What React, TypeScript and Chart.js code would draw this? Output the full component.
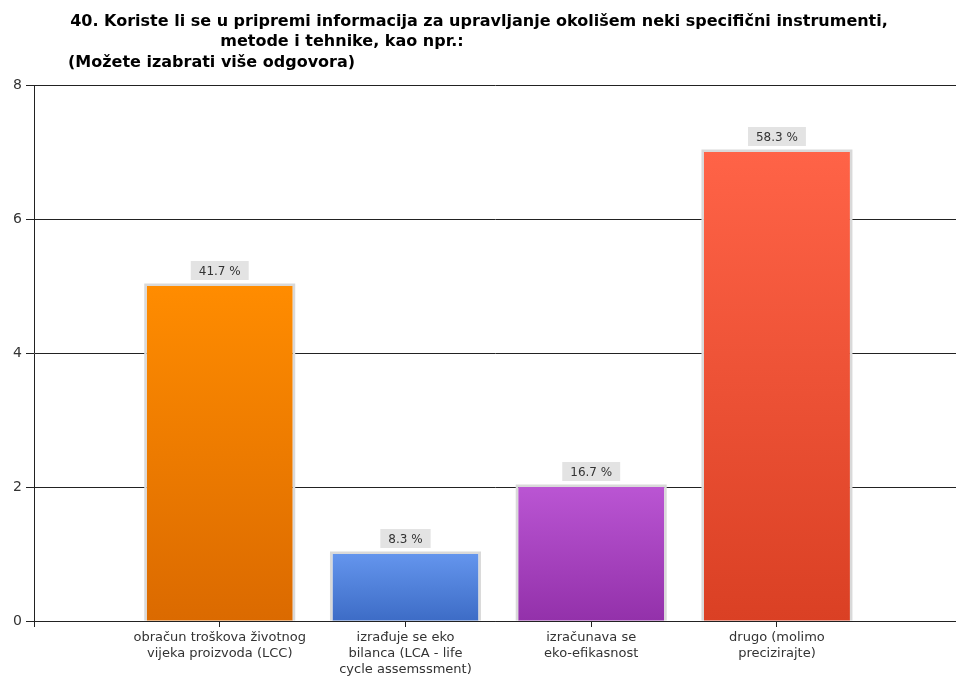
import React, { useEffect, useRef } from "react";
import { Chart, registerables } from "chart.js";

Chart.register(...registerables);

const titleLines = [
  "40. Koriste li se u pripremi informacija za upravljanje okolišem neki specifični instrumenti,",
  "metode i tehnike, kao npr.:",
  "(Možete izabrati više odgovora)",
];

const categories: string[][] = [
  ["obračun troškova životnog", "vijeka proizvoda (LCC)"],
  ["izrađuje se eko", "bilanca (LCA - life", "cycle assemssment)"],
  ["izračunava se", "eko-efikasnost"],
  ["drugo (molimo", "precizirajte)"],
];
const categoryPositions = [1, 2, 3, 4];
const counts = [5, 1, 2, 7];
const percentLabels = ["41.7 %", "8.3 %", "16.7 %", "58.3 %"];
const yTicks = [0, 2, 4, 6, 8];

const topColors = ["#FF8C00", "#6495ED", "#BA55D3", "#FF6347"];
const bottomColors = ["#DB6A00", "#3D6CC6", "#9331AA", "#DA4024"];

const FONT = "'DejaVu Sans', Verdana, sans-serif";

const titlePlugin = {
  id: "customTitle",
  afterDraw(chart: any) {
    const c = chart.ctx;
    c.save();
    c.fillStyle = "#000";
    c.textBaseline = "middle";
    c.font = `bold 16px ${FONT}`;
    c.textAlign = "center";
    c.fillText(titleLines[0], 479, 22);
    c.fillText(titleLines[1], 342, 42);
    c.textAlign = "left";
    c.fillText(titleLines[2], 68, 63);
    c.restore();
  },
};

const barBorderPlugin = {
  id: "barBorders",
  afterDatasetsDraw(chart: any) {
    const c = chart.ctx;
    const meta = chart.getDatasetMeta(0);
    c.save();
    c.strokeStyle = "#D9D9D9";
    c.lineWidth = 2.5;
    meta.data.forEach((bar: any) => {
      const left = bar.x - bar.width / 2 - 1.25;
      const right = bar.x + bar.width / 2 + 1.25;
      const top = bar.y - 1.25;
      const base = bar.base;
      c.beginPath();
      c.moveTo(left, base);
      c.lineTo(left, top);
      c.lineTo(right, top);
      c.lineTo(right, base);
      c.stroke();
    });
    c.restore();
  },
};

const valueLabelPlugin = {
  id: "valueLabels",
  afterDatasetsDraw(chart: any) {
    const c = chart.ctx;
    const meta = chart.getDatasetMeta(0);
    c.save();
    c.font = `12px ${FONT}`;
    c.textAlign = "center";
    c.textBaseline = "middle";
    meta.data.forEach((bar: any, i: number) => {
      const text = percentLabels[i];
      const w = c.measureText(text).width + 16;
      const h = 19;
      const x = bar.x;
      const bottom = bar.y - 6;
      c.fillStyle = "#E3E3E3";
      c.fillRect(x - w / 2, bottom - h, w, h);
      c.fillStyle = "#333";
      c.fillText(text, x, bottom - h / 2 + 1);
    });
    c.restore();
  },
};

export default function App() {
  const ref = useRef<HTMLCanvasElement | null>(null);
  useEffect(() => {
    if (!ref.current) return;
    const chart = new Chart(ref.current, {
      type: "bar",
      data: {
        datasets: [
          {
            data: counts.map((v, i) => ({ x: categoryPositions[i], y: v })),
            backgroundColor: (ctx: any) => {
              const i = ctx.dataIndex ?? 0;
              const chartRef = ctx.chart;
              const ys = chartRef.scales?.y;
              if (!ys || ctx.type !== "data") return topColors[i];
              const yTop = ys.getPixelForValue(counts[i]);
              const yBot = ys.getPixelForValue(0);
              if (!Number.isFinite(yTop) || !Number.isFinite(yBot) || yTop === yBot) return topColors[i];
              const g = chartRef.ctx.createLinearGradient(0, yTop, 0, yBot);
              g.addColorStop(0, topColors[i]);
              g.addColorStop(1, bottomColors[i]);
              return g;
            },
            borderWidth: 0,
            barPercentage: 0.786,
            categoryPercentage: 1,
          },
        ],
      },
      options: {
        animation: false,
        responsive: true,
        maintainAspectRatio: false,
        layout: { padding: { top: 85, left: 0, right: 0, bottom: 0 } },
        plugins: {
          legend: { display: false },
          title: { display: false },
          tooltip: { enabled: false },
        },
        scales: {
          x: {
            type: "linear",
            min: 0,
            max: 4.964,
            offset: false,
            afterBuildTicks: (scale: any) => {
              scale.ticks = [0, ...categoryPositions].map((v) => ({ value: v }));
            },
            afterFit: (scale: any) => {
              scale.height = 56;
            },
            grid: {
              offset: false,
              drawOnChartArea: false,
              drawTicks: true,
              tickLength: 6,
              color: "#222",
              lineWidth: 1,
            },
            border: { display: true, color: "#222", width: 1 },
            ticks: {
              autoSkip: false,
              maxRotation: 0,
              minRotation: 0,
              padding: 3,
              color: "#333",
              font: { family: FONT, size: 13, lineHeight: "16px" },
              callback: (value: any) => {
                const idx = categoryPositions.indexOf(Number(value));
                return idx >= 0 ? categories[idx] : "";
              },
            },
          },
          y: {
            min: 0,
            max: 8,
            afterBuildTicks: (scale: any) => {
              scale.ticks = yTicks.map((v) => ({ value: v }));
            },
            afterFit: (scale: any) => {
              scale.width = 34;
            },
            grid: {
              color: "#222",
              lineWidth: 1,
              drawTicks: true,
              tickLength: 8,
            },
            border: { display: true, color: "#222", width: 1 },
            ticks: {
              padding: 4,
              color: "#333",
              font: { family: FONT, size: 14 },
            },
          },
        },
      },
      plugins: [titlePlugin, barBorderPlugin, valueLabelPlugin],
    } as any);
    return () => chart.destroy();
  }, []);

  return (
    <div
      style={{
        position: "fixed",
        left: 0,
        top: 0,
        width: 956,
        height: 677,
        background: "#fff",
      }}
    >
      <canvas ref={ref} />
    </div>
  );
}
